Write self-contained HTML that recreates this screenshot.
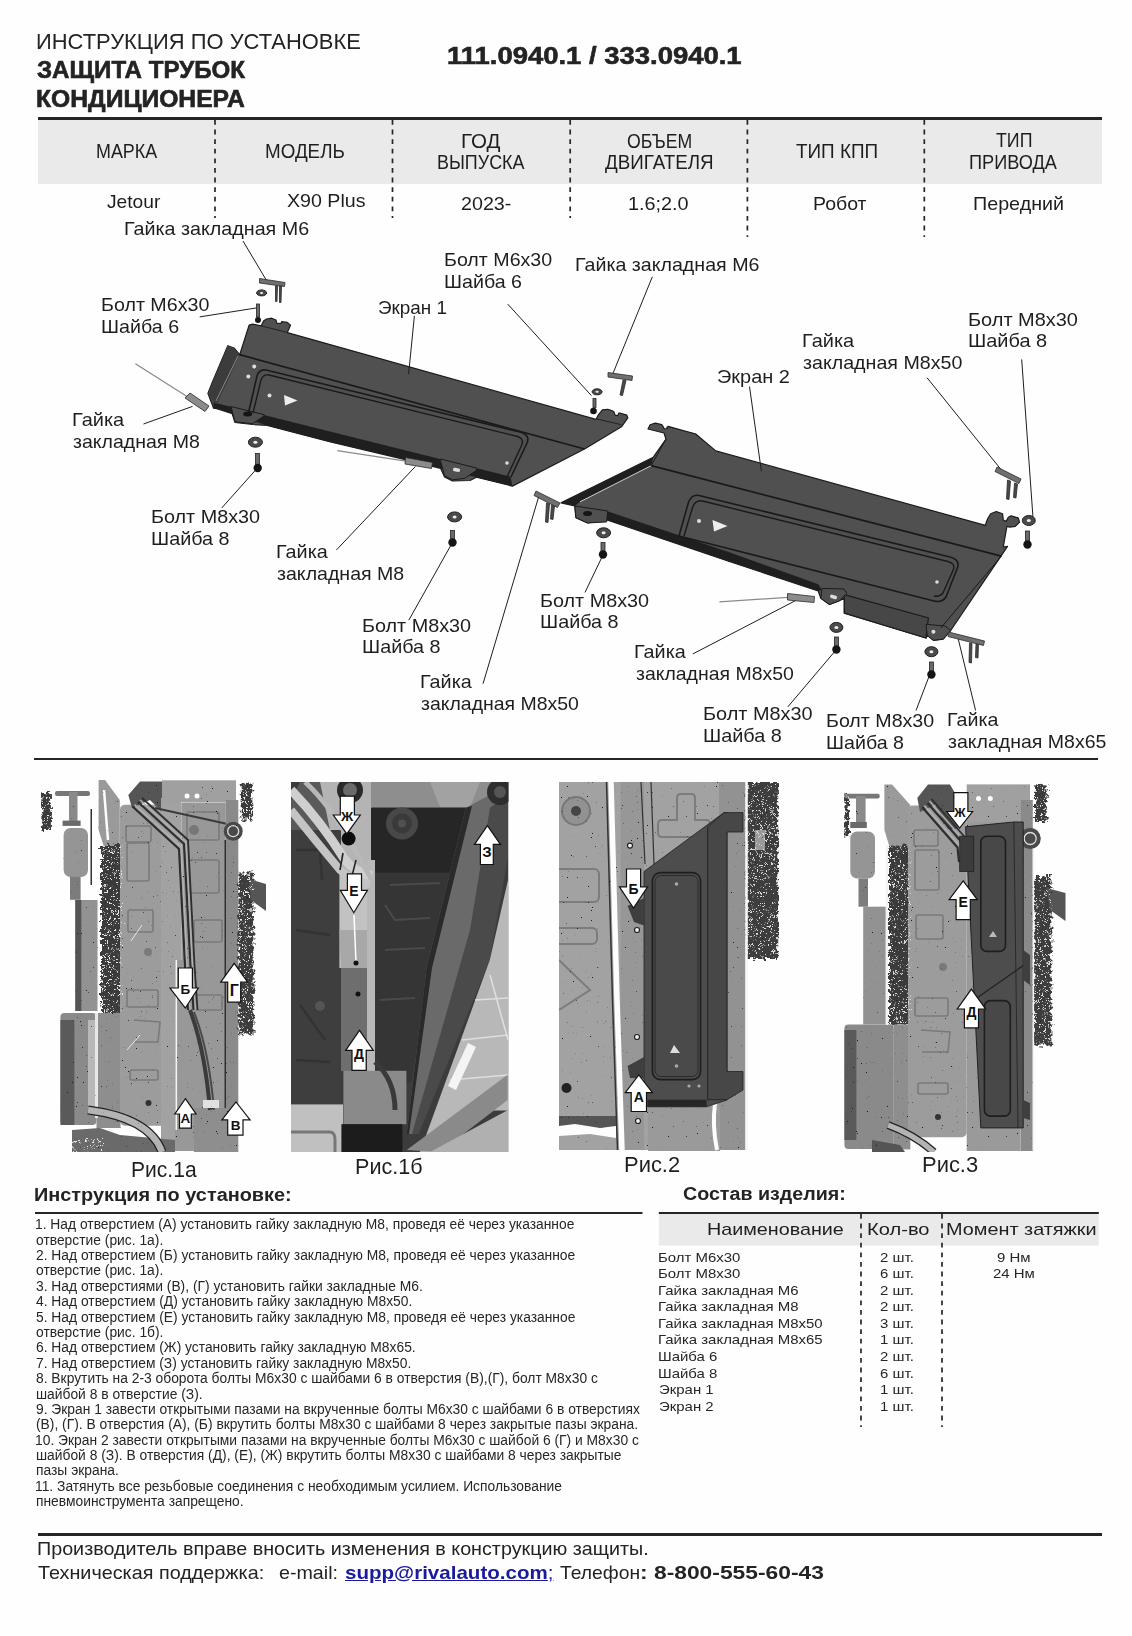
<!DOCTYPE html>
<html><head><meta charset="utf-8"><title>Инструкция по установке</title>
<style>
html,body{margin:0;padding:0;background:#fefefe;}
body{width:1132px;height:1636px;position:relative;overflow:hidden;font-family:"Liberation Sans",sans-serif;}
svg.layer{position:absolute;left:0;top:0;}
.t{position:absolute;white-space:nowrap;transform-origin:0 0;}
</style></head><body>
<svg class="layer" width="1132" height="1636" viewBox="0 0 1132 1636">
<rect x="38" y="120" width="1064" height="64" fill="#eaeaea"/>
<rect x="38" y="117" width="1064" height="3" fill="#252525"/>
<g stroke="#262626" stroke-width="1.7" stroke-dasharray="4.8 4.8">
<line x1="215" y1="120" x2="215" y2="218"/>
<line x1="392.5" y1="120" x2="392.5" y2="218"/>
<line x1="570.2" y1="120" x2="570.2" y2="218"/>
<line x1="747.4" y1="120" x2="747.4" y2="237"/>
<line x1="924.3" y1="120" x2="924.3" y2="237"/>
</g>
<rect x="34" y="758" width="1064" height="2" fill="#252525"/>
<rect x="35" y="1212" width="607.5" height="2" fill="#252525"/>
<rect x="658.8" y="1214" width="440" height="31.5" fill="#eaeaea"/>
<rect x="658.8" y="1212" width="440" height="2" fill="#252525"/>
<g stroke="#262626" stroke-width="1.7" stroke-dasharray="4.8 4.8">
<line x1="861" y1="1214" x2="861" y2="1427"/>
<line x1="942" y1="1214" x2="942" y2="1427"/>
</g>
<rect x="38" y="1533" width="1064" height="3" fill="#252525"/>

<defs>
<linearGradient id="g1b_beam" x1="0" y1="0" x2="1" y2="0">
<stop offset="0" stop-color="#3a3a3a"/><stop offset="0.5" stop-color="#5a5a5a"/><stop offset="1" stop-color="#2e2e2e"/>
</linearGradient>
<linearGradient id="g1b_pipe" x1="0" y1="0" x2="0" y2="1">
<stop offset="0" stop-color="#d6d6d6"/><stop offset="0.6" stop-color="#bdbdbd"/><stop offset="1" stop-color="#8a8a8a"/>
</linearGradient>
<filter id="spD" x="0" y="0" width="1" height="1">
<feTurbulence type="fractalNoise" baseFrequency="0.75" numOctaves="2" seed="7" result="n"/>
<feColorMatrix in="n" type="matrix" values="0 0 0 0 0  0 0 0 0 0  0 0 0 0 0  0 0 0 12 -7.4" result="m"/>
<feComposite in="SourceGraphic" in2="m" operator="in"/>
</filter>
<filter id="spL" x="0" y="0" width="1" height="1">
<feTurbulence type="fractalNoise" baseFrequency="0.8" numOctaves="2" seed="11" result="n"/>
<feColorMatrix in="n" type="matrix" values="0 0 0 0 0  0 0 0 0 0  0 0 0 0 0  0 0 0 14 -10.7" result="m"/>
<feFlood flood-color="#1e1e1e" result="f"/>
<feComposite in="f" in2="m" operator="in" result="fd"/>
<feComposite in="fd" in2="SourceAlpha" operator="in" result="fds"/>
<feMerge><feMergeNode in="SourceGraphic"/><feMergeNode in="fds"/></feMerge>
</filter>
<clipPath id="c1b"><rect x="291" y="782" width="217.5" height="370"/></clipPath>
<clipPath id="c1a"><rect x="40" y="779" width="230" height="374"/></clipPath>
<clipPath id="c2"><rect x="559" y="782" width="220" height="369"/></clipPath>
<clipPath id="c3"><rect x="844" y="783" width="225" height="369"/></clipPath>
<filter id="rag" x="-40%" y="-8%" width="180%" height="116%">
<feTurbulence type="fractalNoise" baseFrequency="0.3" numOctaves="2" seed="5" result="t"/>
<feDisplacementMap in="SourceGraphic" in2="t" scale="9" xChannelSelector="R" yChannelSelector="G"/>
</filter>
</defs>

<!-- ===== Photo 1a ===== -->
<g id="p1a" filter="url(#spL)">
<!-- left exhaust parts -->
<rect filter="url(#rag)" x="41.4" y="793" width="9.5" height="37" fill="#3a3a3a"/>
<rect x="55" y="791" width="35" height="5" rx="2" fill="#777"/>
<rect x="69" y="792" width="8.5" height="29" fill="#8a8a8a"/>
<rect x="62.6" y="820.6" width="18" height="5.3" fill="#6a6a6a"/>
<rect x="63.6" y="828" width="24.4" height="49" rx="7" fill="#959595"/>
<rect x="70" y="876.8" width="10.6" height="23" fill="#7c7c7c"/>
<rect x="90.5" y="809" width="1.5" height="76" fill="#333"/>
<rect x="75.3" y="900" width="22.2" height="111" fill="#929292"/>
<rect x="75.3" y="900" width="6" height="111" fill="#555"/>
<polygon points="98.6,780 105,780 119.8,800 119.8,847 104,847 98.6,830" fill="#9a9a9a"/>
<path d="M104,790 L108,840" stroke="#fdfdfd" stroke-width="2.5"/>
<rect filter="url(#rag)" x="101" y="845" width="21" height="168" fill="#3a3a3a"/>
<rect x="60.4" y="1013" width="36" height="112" rx="4" fill="#8a8a8a"/>
<rect x="60.4" y="1020" width="14" height="105" fill="#5a5a5a"/>
<rect x="88" y="1020" width="8" height="95" fill="#b8b8b8"/>
<rect x="96.5" y="1013" width="24" height="115" fill="#8e8e8e"/>
<rect x="95" y="1013" width="3" height="105" fill="#e8e8e8"/>
<!-- floor panel -->
<rect x="120" y="804.7" width="55" height="321" rx="5" fill="#9c9c9c"/>
<g fill="none" stroke="#7a7a7a" stroke-width="1.6">
<rect x="126" y="826" width="25" height="16" rx="2"/>
<rect x="127" y="843" width="22" height="38" rx="2"/>
<rect x="128" y="910" width="25" height="22" rx="2"/>
<rect x="127" y="990" width="31" height="17" rx="2"/>
<path d="M134,1020 L160,1022 L158,1042 L135,1042"/>
<rect x="130" y="1070" width="28" height="10" rx="2"/>
</g>
<g fill="none" stroke="#e6e6e6" stroke-width="1">
<path d="M127,1050 L140,1035"/><path d="M131,941 L142,925"/>
</g>
<circle cx="148" cy="952" r="4" fill="#7a7a7a"/>
<circle cx="148.5" cy="1103" r="3" fill="#333"/>
<!-- top arm -->
<polygon points="128.3,795 140,781.4 165,781.4 177,800 175,815 165,815 150,800 132,808" fill="#555"/>
<!-- middle column + pipes -->
<rect x="161" y="798" width="20" height="353" fill="#a2a2a2"/>
<rect x="175" y="960" width="19" height="191" fill="#989898"/>
<rect x="175.5" y="960" width="1.6" height="170" fill="#f4f4f4"/>
<!-- right panel -->
<rect x="181.3" y="802.6" width="44.5" height="310" fill="#989898"/>
<g fill="none" stroke="#7a7a7a" stroke-width="1.6">
<rect x="187" y="812" width="32" height="28" rx="2"/>
<rect x="189" y="860" width="30" height="33" rx="2"/>
<rect x="194" y="920" width="28" height="22" rx="2"/>
<rect x="195" y="995" width="27" height="15" rx="2"/>
</g>
<circle cx="194" cy="830" r="5" fill="#777"/>
<rect x="162" y="780.3" width="74" height="22" fill="#a0a0a0"/>
<circle cx="187" cy="796" r="2.5" fill="#fff"/><circle cx="197" cy="796" r="2.5" fill="#fff"/>
<path d="M155,808 L232,825" stroke="#3a3a3a" stroke-width="2"/>
<rect x="225.8" y="800" width="12.5" height="352" fill="#8a8a8a"/>
<rect x="224.5" y="840" width="1.5" height="310" fill="#333"/>
<circle cx="233.2" cy="831.2" r="9.5" fill="#4a4a4a"/>
<circle cx="233.2" cy="831.2" r="5.5" fill="none" stroke="#ddd" stroke-width="1.3"/>
<rect filter="url(#rag)" x="241.7" y="783.5" width="10.6" height="36" fill="#3a3a3a"/>
<rect filter="url(#rag)" x="238.5" y="872.5" width="15" height="162" fill="#3c3c3c"/>
<polygon points="249,879 266,884 266,911 251,900" fill="#555"/>
<rect x="194" y="1108" width="44" height="44" fill="#8e8e8e"/>
<path d="M132.5,806.5 L179,849 L185,965 L188,1010" stroke="#2e2e2e" stroke-width="2.2" fill="none"/>
<path d="M134.6,804.7 L181.3,847.1 L187,965 L190,1010" stroke="#b0b0b0" stroke-width="1.6" fill="none"/>
<path d="M138,802 L184,844 L190.5,965 L193.5,1010" stroke="#2e2e2e" stroke-width="2.2" fill="none"/>
<path d="M140,800 L186,842 L192.5,965 L195.5,1010" stroke="#b0b0b0" stroke-width="1.4" fill="none"/>
<path d="M142,798 L188,840 L194.5,965 L197.5,1010" stroke="#2e2e2e" stroke-width="1.8" fill="none"/>
<path d="M190,1010 Q205,1050 210,1110" stroke="#3a3a3a" stroke-width="4" fill="none"/>
<path d="M194,1012 Q209,1050 214,1110" stroke="#4a4a4a" stroke-width="2" fill="none"/>
<rect x="203" y="1100" width="16" height="8" fill="#e0e0e0"/>
<!-- bottom pipe and speckle -->
<polygon points="72,1130 100,1128 120,1135 175,1140 175,1152 72,1152" fill="#6a6a6a"/>
<path d="M88,1110 Q150,1118 162,1152" stroke="#222" stroke-width="9" fill="none"/>
<path d="M88,1110 Q150,1118 162,1152" stroke="#b4b4b4" stroke-width="6.5" fill="none"/>
<g filter="url(#rag)"><g filter="url(#spD)" fill="#e8e8e8"><rect x="101" y="845" width="21" height="168"/><rect x="238.5" y="872.5" width="15" height="162"/><rect x="41.4" y="793" width="9.5" height="37"/><rect x="72" y="1138" width="30" height="14"/><rect x="241.7" y="783.5" width="10.6" height="36"/></g></g>
</g>

<!-- ===== Photo 1b ===== -->
<g id="p1b" clip-path="url(#c1b)">
<rect x="291" y="782" width="217.5" height="370" fill="#3c3c3c"/>
<!-- upper light floor area behind tubes -->
<polygon points="315,782 372,782 372,873 345,873 320,830" fill="#b4b4b4"/>
<polygon points="291,800 300,782 320,782 330,830 291,830" fill="#5a5a5a"/>
<!-- middle top band -->
<polygon points="371,782 508,782 508,800 466,807.7 371,807.7" fill="#8e8e8e"/>
<polygon points="430,782 480,782 470,807 440,807" fill="#a2a2a2"/>
<!-- dark middle -->
<rect x="371" y="807.7" width="95" height="65" fill="#262626"/>
<circle cx="402" cy="823.5" r="16" fill="#484848"/>
<circle cx="402" cy="823.5" r="10" fill="#3a3a3a"/>
<circle cx="402" cy="823.5" r="4" fill="#505050"/>
<polygon points="371,873 455,873 434.4,960 410.7,1082.7 375,1082.7" fill="#353535"/>
<g fill="none" stroke="#4a4a4a" stroke-width="2">
<path d="M390,885 L440,883"/><path d="M385,905 L395,920 L430,918"/><path d="M385,950 L425,948"/><path d="M380,1000 L415,998"/>
</g>
<!-- left dark panel -->
<rect x="291" y="830" width="50" height="275" fill="#3e3e3e"/>
<g fill="none" stroke="#333" stroke-width="2.5">
<path d="M296,850 L320,850 L322,880"/><path d="M296,930 L330,935"/><path d="M300,1005 L325,1040"/><path d="M296,1060 L330,1062"/>
</g>
<circle cx="320" cy="1006" r="5" fill="#555"/>
<!-- vertical strip -->
<rect x="339.4" y="873" width="27.6" height="95" fill="#c2c2c2"/>
<rect x="341" y="968" width="26" height="103" fill="#6e6e6e"/>
<polygon points="339.4,930 367,930 367,968 341,968" fill="#a8a8a8"/>
<rect x="367" y="860" width="8" height="215" fill="#b8b8b8"/>
<!-- beam -->
<polygon points="466,807.7 508,785 508,857 460,968 418.6,1134 406.7,1134 426.5,968" fill="#6a6a6a"/>
<polygon points="490,807.7 508,795 508,857 489.8,960 418.6,1134 412,1134 470,930" fill="#4a4a4a"/>
<polygon points="466,807.7 472,806 432,968 409,1134 406.7,1134 426.5,968" fill="#2a2a2a"/>
<!-- top-right fitting -->
<circle cx="500" cy="792" r="13" fill="#2e2e2e"/>
<circle cx="500" cy="792" r="6" fill="#555"/>
<!-- hall -->
<polygon points="508,880 508,1110.4 466,1110.4 440,1152 420,1152 489.8,960" fill="#b8b8b8"/>
<g stroke="#dedede" stroke-width="1.6"><line x1="475" y1="1000" x2="508" y2="998"/><line x1="462" y1="1040" x2="508" y2="1035"/><line x1="450" y1="1080" x2="508" y2="1075"/><line x1="490" y1="975" x2="508" y2="1040"/></g>
<polygon points="448,1086 468,1043 476,1047 456,1090" fill="#f4f4f4"/>
<polygon points="406.7,1150 507.6,1074.8 507.6,1100 440,1152" fill="#8a8a8a"/>
<polygon points="430,1152 508,1110 508,1152" fill="#b0b0b0"/>
<!-- bottom -->
<rect x="291" y="1104.4" width="52" height="48" fill="#c0c0c0"/>
<path d="M291,1132 L330,1132 Q335,1132 335,1140 L335,1152" stroke="#777" stroke-width="3" fill="none"/>
<rect x="343.4" y="1070.8" width="63" height="53.4" fill="#8a8a8a"/>
<path d="M375,1062 Q395,1080 395,1110" stroke="#3a3a3a" stroke-width="5" fill="none"/>
<rect x="341.4" y="1124.2" width="61" height="28" fill="#1c1c1c"/>
<!-- light tubes top-left -->
<path d="M291,790 Q320,820 345,860 Q355,872 372,876" stroke="#cfcfcf" stroke-width="9" fill="none"/>
<path d="M291,810 Q315,840 340,870 Q350,880 370,884" stroke="#c4c4c4" stroke-width="8" fill="none"/>
<path d="M305,782 Q330,805 352,845 Q365,868 372,880" stroke="#b8b8b8" stroke-width="5" fill="none"/>
<circle cx="350" cy="790" r="13" fill="#2a2a2a"/>
<circle cx="350" cy="790" r="7" fill="#6a6a6a"/>
<g stroke="#222" stroke-width="1.6" fill="none"><path d="M343,853 L340,870"/><path d="M356,860 L352,876"/></g>
<circle cx="348.6" cy="838.6" r="7" fill="#0d0d0d"/>
<line x1="354" y1="915" x2="356" y2="962" stroke="#fff" stroke-width="1.5"/>
<circle cx="356" cy="963" r="2.5" fill="#111"/>
<circle cx="358" cy="994" r="2.5" fill="#111"/>
</g>

<!-- ===== Photo 2 ===== -->
<g id="p2" clip-path="url(#c2)">
<g filter="url(#spL)">
<rect x="559" y="782" width="186.3" height="368" fill="#a2a2a2"/>
<circle cx="576" cy="811" r="14" fill="#929292" stroke="#777" stroke-width="2"/>
<circle cx="576" cy="811" r="5" fill="#444"/>
<g fill="none" stroke="#7c7c7c" stroke-width="2">
<rect x="552" y="869" width="47" height="33" rx="5"/>
<rect x="552" y="928" width="45" height="16" rx="5"/>
<path d="M559,960 L590,990 L559,1010"/>
<path d="M677,798 Q677,794 681,794 L691,794 Q695,794 695,798 L695,820 L706,820 Q710,820 710,824 L710,833 Q710,837 706,837 L662,837 Q658,837 658,833 L658,824 Q658,820 662,820 L677,820 Z"/>
</g>
<rect x="559" y="1116" width="57" height="12" fill="#555"/>
<circle cx="566.5" cy="1088" r="5" fill="#222"/>
<rect x="620.6" y="782" width="23.4" height="368" fill="#979797"/>
<rect x="719" y="782" width="26.3" height="368" fill="#929292"/>
<rect x="648" y="1106" width="72" height="45" fill="#9a9a9a"/>
<rect filter="url(#rag)" x="746.5" y="782" width="31.7" height="177" fill="#3e3e3e"/>
<rect x="755" y="830" width="10" height="20" fill="#999"/>
</g>
<g filter="url(#rag)"><g filter="url(#spD)" fill="#dadada"><rect x="746.5" y="782" width="31.7" height="177"/></g></g>
<path d="M611,782 Q614,900 617,1000 T622,1150" stroke="#fdfdfd" stroke-width="5.5" fill="none"/>
<polygon points="559,1126 575,1124 600,1128 616,1126 616,1138 590,1134 559,1136" fill="#fdfdfd"/>
<path d="M715,1104 Q712,1125 717,1150" stroke="#fdfdfd" stroke-width="4" fill="none"/>
<path d="M606.5,782 Q609.5,900 612.5,1000 T617.5,1150" stroke="#333" stroke-width="1.5" fill="none"/>
<rect x="745.3" y="782" width="2.5" height="368" fill="#f5f5f5"/>
<g stroke="#333" stroke-width="1.2"><line x1="641" y1="782" x2="645" y2="864"/><line x1="651" y1="782" x2="654" y2="864"/></g>
<g fill="#f0f0f0" stroke="#222" stroke-width="1.2">
<circle cx="630" cy="845.6" r="2.5"/><circle cx="637" cy="930" r="2.5"/><circle cx="637" cy="1037" r="2.5"/><circle cx="638" cy="1121" r="2.5"/>
</g>
<polygon points="644,871.5 724,812.6 727,812.6 727,1100 706.5,1106.8 647.6,1106.8 644,1103" fill="#4d4d4d" stroke="#222" stroke-width="0.8"/>
<polygon points="707.6,827 724,812.6 743,812.6 743,832 727,832 727,1071.5 743,1071.5 743,1090 727,1099.7 707.6,1099.7" fill="#474747" stroke="#222" stroke-width="0.8"/>
<line x1="707.6" y1="827" x2="707.6" y2="1099.7" stroke="#2a2a2a" stroke-width="1"/>
<rect x="652.4" y="872.6" width="48.2" height="207" rx="8" fill="#4a4a4a" stroke="#1e1e1e" stroke-width="1.6"/>
<rect x="655" y="875.5" width="43" height="201" rx="6" fill="none" stroke="#2a2a2a" stroke-width="1"/>
<rect x="647.6" y="1099.7" width="59" height="7" fill="#262626"/>
<circle cx="676.5" cy="884" r="1.8" fill="#aaa"/>
<circle cx="676.5" cy="1066" r="1.8" fill="#aaa"/>
<polygon points="674,1045 680,1053 670,1053" fill="#ddd"/>
<circle cx="689" cy="1086" r="1.6" fill="#aaa"/><circle cx="699" cy="1086" r="1.6" fill="#aaa"/>
<polygon points="627.6,906 644,898 644,925.6 634,922" fill="#3f3f3f"/>
<polygon points="627.6,1066 644,1057 644,1078.5 630,1078" fill="#3f3f3f"/>
</g>

<!-- ===== Photo 3 ===== -->
<g id="p3" clip-path="url(#c3)">
<g filter="url(#spL)">
<rect filter="url(#rag)" x="844.4" y="793.8" width="4.7" height="42.4" fill="#3a3a3a"/>
<rect x="844.4" y="793.8" width="35.3" height="4.7" rx="2" fill="#777"/>
<rect x="856" y="796" width="9.6" height="28.4" fill="#8a8a8a"/>
<rect x="850.3" y="822" width="16.5" height="6" fill="#6a6a6a"/>
<rect x="850.3" y="831.5" width="24.7" height="47" rx="7" fill="#959595"/>
<rect x="858.5" y="878.5" width="9.5" height="28.2" fill="#7c7c7c"/>
<rect x="863.2" y="906.7" width="22.4" height="117.7" fill="#929292"/>
<polygon points="884.4,784.4 892,784.4 910.3,805 910.3,855 892,855 884.4,830" fill="#9a9a9a"/>
<rect filter="url(#rag)" x="889" y="845.6" width="21.3" height="178.8" fill="#3a3a3a"/>
<rect x="844.4" y="1024.4" width="49.4" height="124.6" rx="4" fill="#8a8a8a"/>
<rect x="844.4" y="1030" width="12" height="110" fill="#5a5a5a"/>
<rect x="893.8" y="1024.4" width="16.5" height="125" fill="#8e8e8e"/>
<rect x="908" y="805.6" width="58.7" height="331.7" rx="5" fill="#9c9c9c"/>
<g fill="none" stroke="#7a7a7a" stroke-width="1.6">
<rect x="914" y="830" width="24" height="16" rx="2"/>
<rect x="915" y="850" width="24" height="40" rx="2"/>
<rect x="916" y="915" width="27" height="24" rx="2"/>
<rect x="915" y="998" width="33" height="18" rx="2"/>
<path d="M921,1030 L950,1032 L948,1052 L922,1052"/>
<rect x="918" y="1083" width="30" height="11" rx="2"/>
</g>
<circle cx="943" cy="967" r="4" fill="#7a7a7a"/>
<circle cx="938" cy="1117" r="3" fill="#333"/>
<polygon points="917.3,798 928,784.4 950,784.4 962,805 957.3,829 948,829 935,805 920,812" fill="#555"/>
<rect x="966.7" y="784.4" width="63.3" height="37.6" fill="#a0a0a0"/>
<circle cx="978.5" cy="798.5" r="2.5" fill="#fff"/><circle cx="990.3" cy="798.5" r="2.5" fill="#fff"/>
<rect x="966.7" y="822" width="54" height="329" fill="#9a9a9a"/>
<rect x="1020.8" y="800" width="12" height="351" fill="#8a8a8a"/>
<rect filter="url(#rag)" x="1035" y="784.4" width="11.7" height="37.6" fill="#3a3a3a"/>
<rect filter="url(#rag)" x="1033.8" y="876" width="17.6" height="169.5" fill="#3c3c3c"/>
<polygon points="1046.7,888 1065.5,893 1065.5,921 1050,910" fill="#555"/>
<polygon points="872,1140 900,1145 905,1152 872,1152" fill="#555"/>
</g>
<g filter="url(#rag)"><g filter="url(#spD)" fill="#dadada"><rect x="889" y="845.6" width="21.3" height="178.8"/><rect x="1033.8" y="876" width="17.6" height="169.5"/><rect x="1035" y="784.4" width="11.7" height="37.6"/><rect x="844.4" y="793.8" width="4.7" height="42.4"/></g></g>
<rect x="886" y="845" width="2" height="180" fill="#f2f2f2"/>
<rect x="1032.6" y="840" width="1.5" height="310" fill="#f2f2f2"/>
<path d="M922.5,807.5 L957.5,847.5 L959,862" stroke="#2e2e2e" stroke-width="2.2" fill="none"/>
<path d="M924.4,805.6 L959.7,845.6 L961,862" stroke="#b0b0b0" stroke-width="1.6" fill="none"/>
<path d="M927.5,803 L962.5,843 L964,862" stroke="#2e2e2e" stroke-width="2.2" fill="none"/>
<path d="M929.5,801 L964.5,841 L966,862" stroke="#b0b0b0" stroke-width="1.4" fill="none"/>
<path d="M931.5,799 L966.5,839 L968,862" stroke="#2e2e2e" stroke-width="1.8" fill="none"/>
<path d="M888,1125 Q915,1135 933.8,1152" stroke="#222" stroke-width="8" fill="none"/>
<path d="M888,1125 Q915,1135 933.8,1152" stroke="#b4b4b4" stroke-width="5.5" fill="none"/>
<circle cx="1030.2" cy="838.5" r="10.6" fill="#4a4a4a"/>
<circle cx="1030.2" cy="838.5" r="6" fill="none" stroke="#ddd" stroke-width="1.3"/>
<polygon points="965.6,826.8 1013.8,822 1023.2,822 1023.2,1127.9 980.8,1127.9" fill="#4d4d4d" stroke="#222" stroke-width="1"/>
<rect x="959.7" y="836.2" width="14" height="35.3" fill="#3c3c3c" stroke="#222" stroke-width="0.8"/>
<line x1="1013.8" y1="822" x2="1018" y2="1127.9" stroke="#2a2a2a" stroke-width="1"/>
<line x1="976.1" y1="998.5" x2="1023.2" y2="965.5" stroke="#222" stroke-width="1.2"/>
<polygon points="1023.2,950 1030,955 1030,985 1023.2,980" fill="#3f3f3f"/>
<polygon points="1023.2,1100 1030,1103 1030,1120 1023.2,1118" fill="#3f3f3f"/>
<rect x="980.8" y="836.2" width="24.7" height="115.2" rx="6" fill="#484848" stroke="#1e1e1e" stroke-width="1.6"/>
<rect x="984.4" y="1000.6" width="25.9" height="115.5" rx="6" fill="#484848" stroke="#1e1e1e" stroke-width="1.6"/>
<polygon points="993,931 997,937 989,937" fill="#bbb"/>
</g>

<!-- ===== Arrows ===== -->
<g fill="#fff" stroke="#111" stroke-width="1.2" stroke-linejoin="miter">
<!-- Б down p1a -->
<polygon points="178.3,968 192.4,968 192.4,988 198.3,988 185.3,1008 170,988 178.3,988"/>
<!-- Г up -->
<polygon points="234.2,963.3 247.7,982.2 240.7,982.2 240.7,1002.2 227.7,1002.2 227.7,982.2 220.7,982.2"/>
<!-- А up p1a -->
<polygon points="185.4,1098.7 196,1114 191.3,1114 191.3,1128.1 179.5,1128.1 179.5,1114 174.8,1114"/>
<!-- В up -->
<polygon points="236,1102 250.1,1119.9 243,1119.9 243,1135.2 227.7,1135.2 227.7,1119.9 221.9,1119.9"/>
<!-- Ж down p1b -->
<polygon points="340.3,796.2 354.4,796.2 354.4,815 360.3,815 346.8,833.9 333.3,815 340.3,815"/>
<!-- Е down p1b -->
<polygon points="347.4,873.9 361.5,873.9 361.5,890.3 367.4,890.3 353.8,912.7 340.3,890.3 347.4,890.3"/>
<!-- З up -->
<polygon points="487.4,825.6 500.4,844.4 493.3,844.4 493.3,864.5 480.4,864.5 480.4,844.4 474.5,844.4"/>
<!-- Д up p1b -->
<polygon points="359.5,1030.4 373.3,1050.4 366.2,1050.4 366.2,1070.4 352,1070.4 352,1050.4 345.7,1050.4"/>
<!-- Б down p2 -->
<polygon points="626.5,869 640.6,869 640.6,886.8 647.6,886.8 633.5,908 619.4,886.8 626.5,886.8"/>
<!-- А up p2 -->
<polygon points="638.8,1075 652.4,1092.6 646.5,1092.6 646.5,1111.5 631.2,1111.5 631.2,1092.6 625.3,1092.6"/>
<!-- Ж down p3 -->
<polygon points="953.8,792.6 967.9,792.6 967.9,811.5 972.6,811.5 959.6,828 946.7,811.5 953.8,811.5"/>
<!-- Е up p3 -->
<polygon points="963.2,880.9 977.3,899.7 970.3,899.7 970.3,919.7 956.1,919.7 956.1,899.7 949.1,899.7"/>
<!-- Д up p3 -->
<polygon points="971.4,989.1 985.5,1009 978.5,1009 978.5,1027.9 964.4,1027.9 964.4,1009 957.3,1009"/>
</g>
<g font-family="Liberation Sans" font-weight="bold" fill="#111" text-anchor="middle">
<text x="185.3" y="994" font-size="13.5">Б</text>
<text x="234.2" y="996" font-size="16">Г</text>
<text x="185.4" y="1123" font-size="13.5">А</text>
<text x="235.5" y="1130" font-size="13.5">В</text>
<text x="347" y="820.5" font-size="13.5">Ж</text>
<text x="354" y="896" font-size="14">Е</text>
<text x="487" y="857" font-size="15">З</text>
<text x="359" y="1059" font-size="14">Д</text>
<text x="633.5" y="894" font-size="14">Б</text>
<text x="638.8" y="1102" font-size="14">А</text>
<text x="960" y="816.5" font-size="12.5">Ж</text>
<text x="963.2" y="907" font-size="14">Е</text>
<text x="971.4" y="1017" font-size="14">Д</text>
</g>

<!-- shield 1 -->
<g id="s1">
<polygon fill="#505050" stroke="#1c1c1c" stroke-width="1.2" stroke-linejoin="round" points="249.1,325.2 252.7,324.2 261.1,325.9 263.5,321 266.5,319 271.7,318.2 276,320 276.7,323.1 280.9,323.5 281.6,321.7 287.3,322.4 290.5,325.2 287.3,332.6 596,419.4 598.2,415.1 602.4,409.8 607.7,409.3 612.5,410.9 614,412 615.1,415.1 617.8,415.7 618.8,413 620,413 626.8,415.1 627.8,417.8 621.5,426.8 584.5,449 512.4,486.1 476.4,477.2 470,480.5 452.5,481 444.6,477 440.6,468.3 400,458.3 329.5,441.7 267.2,425.5 252.5,424.5 235,422.5 231,410 213.6,408.2 207.9,393.4 212,383 227.8,345.7 234,348 239.7,354.7"/>
<polygon fill="#1f1f1f" points="213.6,402.4 400,449 510.5,476.5 512.4,486.1 476.4,477.2 440.6,468.3 400,458.3 329.5,441.7 267.2,425.5 213.6,408.2"/>
<polygon fill="#505050" stroke="#1c1c1c" stroke-width="1" points="440.6,459 440.6,461.2 444.6,475.8 452.5,479.8 464.4,478.4 476.4,470.5 476.4,468"/>
<polygon fill="#505050" stroke="#1c1c1c" stroke-width="1" points="231,406.5 235,421.8 252.5,423.7 264.1,416 264.1,414.7"/>
<polygon fill="#3c3c3c" points="207.9,393.4 227.8,345.7 234,348 239.7,354.7 217,404 213.6,402.4"/>
<line x1="216" y1="401" x2="238" y2="356" stroke="#9a9a9a" stroke-width="0.8"/>
<polyline fill="none" stroke="#1a1a1a" stroke-width="1.8" points="239.7,354.7 584.5,449"/>
<line x1="261.9" y1="326" x2="286.6" y2="332.3" stroke="#222" stroke-width="1"/>
<line x1="597" y1="419" x2="621.5" y2="424.7" stroke="#222" stroke-width="1"/>
<line x1="987" y1="521.4" x2="1006.9" y2="526.4" stroke="#222" stroke-width="1"/>
<line x1="666" y1="427" x2="695.7" y2="434" stroke="#222" stroke-width="0.8"/>
<path fill="none" stroke="#1a1a1a" stroke-width="1.6" d="M248.7,412 L257,376 Q259,369 266,370 L520,432 Q530.5,435 527,443 L511,477"/>
<path fill="none" stroke="#1a1a1a" stroke-width="1.4" d="M253,413 L261,380 Q263,374 269,375 L517.5,436.5 Q524.5,438.5 521.5,445.5 L507,477"/>
<circle cx="254.2" cy="366.6" r="2" fill="#ddd"/>
<circle cx="248.3" cy="376.5" r="2" fill="#ddd"/>
<circle cx="269.5" cy="395.4" r="2" fill="#ddd"/>
<polygon fill="#eee" points="284,395 297.5,400.5 285,405.5"/>
<circle cx="507" cy="463" r="1.8" fill="#ddd"/>
<ellipse cx="247.6" cy="414" rx="4.5" ry="2.5" fill="#151515"/>
<rect x="453" y="468" width="7" height="3.5" rx="1.5" fill="#ddd" transform="rotate(10 456 470)"/>
</g>

<!-- shield 2 -->
<g id="s2">
<polygon fill="#505050" stroke="#1c1c1c" stroke-width="1.2" stroke-linejoin="round" points="648,429 650.1,424.7 655.4,423.1 661.8,424.7 662.8,426 664.4,429 667,428.5 668.1,426.3 695.7,434 715.8,450.9 985.3,525.3 987.5,519 990.6,513.7 996.3,511.5 1002.6,513.7 1003.3,520 1006.1,521.4 1008.3,517.2 1011.1,515.8 1018.2,517.9 1019.6,522.1 1015.3,526.4 1009.7,527.1 1006.9,526.4 1003.3,547 1007.5,546.4 950.7,630.5 943.2,639.1 933.4,640.3 927.2,635.4 926,638 844.3,613.1 844.3,598.3 839.4,600.8 829.5,604.5 820.8,598.3 818.2,591 728.6,561.2 607,520 587.6,523 575.9,517.7 574.8,506 561,502.8 653.3,457.2 666,439.2 664,433"/>
<polygon fill="#1f1f1f" points="561,502.8 653.3,457.2 651.2,465.7 580,501.8 574.8,506"/>
<line x1="651.2" y1="465.7" x2="580" y2="501.8" stroke="#cfcfcf" stroke-width="1"/>
<polygon fill="#1f1f1f" points="575,506 606.6,511 728.6,552 818.2,584.2 822,590 818.2,591 728.6,561.2 600,517.6 575,511"/>
<polygon fill="#505050" stroke="#1c1c1c" stroke-width="1" points="574.8,506 575.9,517.7 587.6,523 606.6,521.9 607.7,511"/>
<polygon fill="#474747" stroke="#1c1c1c" stroke-width="1.2" points="844.3,594.6 928.4,618 926,638 844.3,613.1"/>
<polygon fill="#505050" stroke="#1c1c1c" stroke-width="1" points="926,624.3 927.2,635.4 933.4,640.3 943.2,639.1 950.7,630.5 945,626"/>
<polygon fill="#505050" stroke="#1c1c1c" stroke-width="1" points="822,588.4 820.8,598.3 829.5,604.5 839.4,600.8 846.8,593.4 844,589"/>
<polyline fill="none" stroke="#1a1a1a" stroke-width="1.8" points="651.2,465.7 1001.4,556.2"/>
<line x1="666" y1="439.2" x2="651.2" y2="465.7" stroke="#1a1a1a" stroke-width="1"/>
<polyline fill="none" stroke="#1a1a1a" stroke-width="1" points="1001.4,556.2 940.8,628"/>
<path fill="none" stroke="#1a1a1a" stroke-width="1.6" d="M679,536 L688,504 Q691,494 699,495.5 L950,557 Q961,560 957,569 L946,597 Q942,603 934,601 Z"/>
<path fill="none" stroke="#1a1a1a" stroke-width="1.4" d="M684,536 L692.5,507.5 Q695.5,499.5 702.5,501 L948,561.5 Q956,563.5 953,570.5 L943,593 Q940,597 934,596"/>
<circle cx="699" cy="521" r="2" fill="#ddd"/>
<polygon fill="#eee" points="712.5,520 727.5,526 714,531.5"/>
<circle cx="937" cy="582" r="1.8" fill="#ddd"/>
<ellipse cx="587.6" cy="513.4" rx="4.5" ry="2.5" fill="#151515"/>
<rect x="830" y="595" width="7" height="3.5" rx="1.5" fill="#ddd" transform="rotate(18 833 597)"/>
<circle cx="933.4" cy="631.7" r="2" fill="#ddd"/>
</g>

<!-- leader lines -->
<g stroke="#1e1e1e" stroke-width="1" fill="none">
<line x1="243" y1="241" x2="266.5" y2="280.5"/>
<line x1="199.7" y1="316.9" x2="257.9" y2="307.7"/>
<line x1="414.4" y1="315.8" x2="408.6" y2="374.1"/>
<line x1="507.7" y1="304.1" x2="591.3" y2="395.5"/>
<line x1="652.3" y1="276.9" x2="612.7" y2="374.1"/>
<line x1="749.5" y1="386.5" x2="761.4" y2="471.3"/>
<line x1="927" y1="377.7" x2="1003.3" y2="472.4"/>
<line x1="1021.7" y1="359.4" x2="1033" y2="517.7"/>
<line x1="143.5" y1="424" x2="192.5" y2="406.4"/>
<line x1="221.7" y1="508" x2="256.1" y2="469.5"/>
<line x1="336.4" y1="550" x2="415.4" y2="466.5"/>
<line x1="408.8" y1="620.2" x2="451.2" y2="544.7"/>
<line x1="483" y1="683.8" x2="538.6" y2="497"/>
<line x1="585" y1="592.4" x2="602.2" y2="556.6"/>
<line x1="692.9" y1="653.9" x2="796.7" y2="600"/>
<line x1="787.8" y1="706.9" x2="836.4" y2="649.5"/>
<line x1="916" y1="710.5" x2="929.2" y2="676"/>
<line x1="975.6" y1="710.5" x2="957.9" y2="637.5"/>
</g>

<!-- rods for nuts M8 / M8x50 horizontal -->
<g stroke="#8a8a8a" stroke-width="1.3">
<line x1="135.4" y1="363.7" x2="191" y2="399"/>
<line x1="337.2" y1="450.6" x2="406" y2="461.2"/>
<line x1="719.4" y1="601.8" x2="787.8" y2="597.4"/>
</g>
<!-- nut bodies (cylinders) -->
<g stroke="#2a2a2a" stroke-width="0.8" fill="#8c8c8c">
<polygon points="185,398 190,393 209,406 205,411.5"/>
<polygon points="405.5,457.5 432.5,462.5 431.5,468.5 405,464"/>
<polygon points="787.5,593.5 814.5,596.5 814,602.5 787.5,600"/>
</g>
<!-- T nuts -->
<g stroke="#2a2a2a" stroke-width="0.8" fill="#707070">
<polygon points="259.5,278.5 285,282.5 284.5,286.5 259.5,283"/>
<polygon fill="#4a4a4a" points="275.5,286 277.5,286 277,301.5 275.5,301.5"/><polygon fill="#4a4a4a" points="279.5,286 281.5,286 281,302.5 279.5,302.5"/>
<polygon points="608,372.5 632.5,376 632,380.5 608,377"/>
<polygon fill="#4a4a4a" points="623,380 626,380.5 622.5,395.5 620,395"/>
<polygon points="536,491 560,503 557.5,507.5 534,495.5"/>
<polygon fill="#4a4a4a" points="546.5,503 549.5,504 548,522.5 545.5,522"/>
<polygon fill="#4a4a4a" points="551.5,505 554.5,506 553,519.5 550.5,519"/>
<polygon points="997,467 1021,479 1019,483.5 995,471.5"/>
<polygon fill="#4a4a4a" points="1007.5,480 1010.5,481 1009,499.5 1006.5,499"/>
<polygon fill="#4a4a4a" points="1014.5,483 1017.5,484 1016,498 1013.5,497.5"/>
<polygon points="948.5,632 984.5,641 983.5,645.5 948,636.5"/>
<polygon fill="#4a4a4a" points="969.5,643 972,643.5 971.5,663 969,662.5"/>
<polygon fill="#4a4a4a" points="976,644 978.5,644.5 978,658 975.5,657.5"/>
</g>
<!-- washers -->
<g fill="#4a4a4a" stroke="#222" stroke-width="1">
<ellipse cx="261.6" cy="292.9" rx="5" ry="3"/>
<ellipse cx="597.1" cy="391.8" rx="5" ry="3"/>
<ellipse cx="255.4" cy="442.2" rx="7" ry="5"/>
<ellipse cx="454.6" cy="516.9" rx="7" ry="5"/>
<ellipse cx="603.6" cy="532.8" rx="7" ry="5"/>
<ellipse cx="1028.8" cy="520.5" rx="6.5" ry="5"/>
<ellipse cx="836.4" cy="627.4" rx="6.5" ry="5"/>
<ellipse cx="931.4" cy="651.7" rx="6.5" ry="5"/>
</g>
<g fill="#eee">
<ellipse cx="261.6" cy="292.9" rx="1.6" ry="1"/>
<ellipse cx="597.1" cy="391.8" rx="1.6" ry="1"/>
<ellipse cx="255.4" cy="442.2" rx="2" ry="1.5"/>
<ellipse cx="454.6" cy="516.9" rx="2" ry="1.5"/>
<ellipse cx="603.6" cy="532.8" rx="2" ry="1.5"/>
<ellipse cx="1028.8" cy="520.5" rx="2" ry="1.5"/>
<ellipse cx="836.4" cy="627.4" rx="2" ry="1.5"/>
<ellipse cx="931.4" cy="651.7" rx="2" ry="1.5"/>
</g>
<!-- bolts -->
<g fill="#6a6a6a" stroke="#222" stroke-width="0.8">
<rect x="256.5" y="304" width="3" height="13"/>
<rect x="593" y="398.5" width="3" height="9"/>
<rect x="255.5" y="453.5" width="4" height="12"/>
<rect x="450.5" y="530.5" width="4" height="10"/>
<rect x="601" y="542.5" width="4" height="10"/>
<rect x="1025.5" y="531" width="4" height="11"/>
<rect x="834.4" y="637" width="4" height="10"/>
<rect x="929.4" y="662" width="4" height="10"/>
</g>
<g fill="#151515">
<circle cx="258" cy="320" r="3"/>
<circle cx="593.5" cy="411" r="3.3"/>
<circle cx="257.7" cy="468" r="4.2"/>
<circle cx="452.5" cy="542.5" r="4.2"/>
<circle cx="603" cy="554.5" r="4.2"/>
<circle cx="1027.5" cy="544.5" r="4.2"/>
<circle cx="836.4" cy="649.5" r="4.2"/>
<circle cx="931.4" cy="674.5" r="4.2"/>
</g>

</svg>
<div class="t" style="left:36.01px;top:29.29px;font-size:22.2px;line-height:26.64px;font-weight:normal;color:#232323;transform:scaleX(0.9876)">ИНСТРУКЦИЯ ПО УСТАНОВКЕ</div>
<div class="t" style="left:37.00px;top:57.23px;font-size:23.0px;line-height:27.60px;font-weight:bold;color:#232323;transform:scaleX(1.0481);-webkit-text-stroke:0.6px #232323">ЗАЩИТА ТРУБОК</div>
<div class="t" style="left:35.93px;top:85.53px;font-size:23.0px;line-height:27.60px;font-weight:bold;color:#232323;transform:scaleX(1.0728);-webkit-text-stroke:0.6px #232323">КОНДИЦИОНЕРА</div>
<div class="t" style="left:447.24px;top:42.26px;font-size:23.6px;line-height:28.32px;font-weight:bold;color:#232323;transform:scaleX(1.1634);-webkit-text-stroke:0.6px #232323">111.0940.1 / 333.0940.1</div>
<div class="t" style="left:96.09px;top:140.05px;font-size:19.7px;line-height:23.64px;font-weight:normal;color:#1e1e1e;transform:scaleX(0.9087)">МАРКА</div>
<div class="t" style="left:265.04px;top:140.05px;font-size:19.7px;line-height:23.64px;font-weight:normal;color:#1e1e1e;transform:scaleX(0.9551)">МОДЕЛЬ</div>
<div class="t" style="left:460.96px;top:129.95px;font-size:19.7px;line-height:23.64px;font-weight:normal;color:#1e1e1e;transform:scaleX(1.0429)">ГОД</div>
<div class="t" style="left:436.69px;top:151.15px;font-size:19.7px;line-height:23.64px;font-weight:normal;color:#1e1e1e;transform:scaleX(0.9113)">ВЫПУСКА</div>
<div class="t" style="left:627.00px;top:129.95px;font-size:19.7px;line-height:23.64px;font-weight:normal;color:#1e1e1e;transform:scaleX(0.8977)">ОБЪЕМ</div>
<div class="t" style="left:605.40px;top:151.15px;font-size:19.7px;line-height:23.64px;font-weight:normal;color:#1e1e1e;transform:scaleX(0.9545)">ДВИГАТЕЛЯ</div>
<div class="t" style="left:796.00px;top:140.25px;font-size:19.7px;line-height:23.64px;font-weight:normal;color:#1e1e1e;transform:scaleX(0.9595)">ТИП КПП</div>
<div class="t" style="left:996.00px;top:129.35px;font-size:19.7px;line-height:23.64px;font-weight:normal;color:#1e1e1e;transform:scaleX(0.9036)">ТИП</div>
<div class="t" style="left:968.78px;top:150.55px;font-size:19.7px;line-height:23.64px;font-weight:normal;color:#1e1e1e;transform:scaleX(0.9220)">ПРИВОДА</div>
<div class="t" style="left:107.00px;top:191.42px;font-size:19px;line-height:22.80px;font-weight:normal;color:#1e1e1e;transform:scaleX(1.0097)">Jetour</div>
<div class="t" style="left:287.00px;top:190.02px;font-size:19px;line-height:22.80px;font-weight:normal;color:#1e1e1e;transform:scaleX(1.0325)">X90 Plus</div>
<div class="t" style="left:461.00px;top:192.72px;font-size:19px;line-height:22.80px;font-weight:normal;color:#1e1e1e;transform:scaleX(1.0359)">2023-</div>
<div class="t" style="left:627.96px;top:192.72px;font-size:19px;line-height:22.80px;font-weight:normal;color:#1e1e1e;transform:scaleX(1.0436)">1.6;2.0</div>
<div class="t" style="left:812.97px;top:193.02px;font-size:19px;line-height:22.80px;font-weight:normal;color:#1e1e1e;transform:scaleX(1.0265)">Робот</div>
<div class="t" style="left:972.56px;top:193.02px;font-size:19px;line-height:22.80px;font-weight:normal;color:#1e1e1e;transform:scaleX(1.0379)">Передний</div>
<div class="t" style="left:123.73px;top:218.08px;font-size:18.4px;line-height:22.08px;font-weight:normal;color:#1e1e1e;transform:scaleX(1.0712)">Гайка закладная М6</div>
<div class="t" style="left:101.43px;top:293.98px;font-size:18.4px;line-height:22.08px;font-weight:normal;color:#1e1e1e;transform:scaleX(1.0696)">Болт М6х30</div>
<div class="t" style="left:101.43px;top:315.78px;font-size:18.4px;line-height:22.08px;font-weight:normal;color:#1e1e1e;transform:scaleX(1.0696)">Шайба 6</div>
<div class="t" style="left:377.50px;top:297.18px;font-size:18.4px;line-height:22.08px;font-weight:normal;color:#1e1e1e;transform:scaleX(1.0271)">Экран 1</div>
<div class="t" style="left:443.63px;top:248.98px;font-size:18.4px;line-height:22.08px;font-weight:normal;color:#1e1e1e;transform:scaleX(1.0676)">Болт М6х30</div>
<div class="t" style="left:443.63px;top:270.78px;font-size:18.4px;line-height:22.08px;font-weight:normal;color:#1e1e1e;transform:scaleX(1.0676)">Шайба 6</div>
<div class="t" style="left:575.43px;top:253.68px;font-size:18.4px;line-height:22.08px;font-weight:normal;color:#1e1e1e;transform:scaleX(1.0671)">Гайка закладная М6</div>
<div class="t" style="left:716.80px;top:366.38px;font-size:18.4px;line-height:22.08px;font-weight:normal;color:#1e1e1e;transform:scaleX(1.0853)">Экран 2</div>
<div class="t" style="left:802.11px;top:330.08px;font-size:18.4px;line-height:22.08px;font-weight:normal;color:#1e1e1e;transform:scaleX(1.0853)">Гайка</div>
<div class="t" style="left:803.20px;top:351.88px;font-size:18.4px;line-height:22.08px;font-weight:normal;color:#1e1e1e;transform:scaleX(1.0676)">закладная М8х50</div>
<div class="t" style="left:967.72px;top:308.58px;font-size:18.4px;line-height:22.08px;font-weight:normal;color:#1e1e1e;transform:scaleX(1.0846)">Болт М8х30</div>
<div class="t" style="left:967.72px;top:330.38px;font-size:18.4px;line-height:22.08px;font-weight:normal;color:#1e1e1e;transform:scaleX(1.0846)">Шайба 8</div>
<div class="t" style="left:72.22px;top:408.88px;font-size:18.4px;line-height:22.08px;font-weight:normal;color:#1e1e1e;transform:scaleX(1.0846)">Гайка</div>
<div class="t" style="left:73.30px;top:430.68px;font-size:18.4px;line-height:22.08px;font-weight:normal;color:#1e1e1e;transform:scaleX(1.0614)">закладная М8</div>
<div class="t" style="left:151.12px;top:506.38px;font-size:18.4px;line-height:22.08px;font-weight:normal;color:#1e1e1e;transform:scaleX(1.0766)">Болт М8х30</div>
<div class="t" style="left:151.12px;top:528.18px;font-size:18.4px;line-height:22.08px;font-weight:normal;color:#1e1e1e;transform:scaleX(1.0766)">Шайба 8</div>
<div class="t" style="left:276.22px;top:540.88px;font-size:18.4px;line-height:22.08px;font-weight:normal;color:#1e1e1e;transform:scaleX(1.0766)">Гайка</div>
<div class="t" style="left:277.30px;top:562.68px;font-size:18.4px;line-height:22.08px;font-weight:normal;color:#1e1e1e;transform:scaleX(1.0639)">закладная М8</div>
<div class="t" style="left:362.12px;top:614.68px;font-size:18.4px;line-height:22.08px;font-weight:normal;color:#1e1e1e;transform:scaleX(1.0766)">Болт М8х30</div>
<div class="t" style="left:362.12px;top:636.48px;font-size:18.4px;line-height:22.08px;font-weight:normal;color:#1e1e1e;transform:scaleX(1.0766)">Шайба 8</div>
<div class="t" style="left:419.62px;top:671.18px;font-size:18.4px;line-height:22.08px;font-weight:normal;color:#1e1e1e;transform:scaleX(1.0766)">Гайка</div>
<div class="t" style="left:420.70px;top:692.98px;font-size:18.4px;line-height:22.08px;font-weight:normal;color:#1e1e1e;transform:scaleX(1.0582)">закладная М8х50</div>
<div class="t" style="left:539.72px;top:589.58px;font-size:18.4px;line-height:22.08px;font-weight:normal;color:#1e1e1e;transform:scaleX(1.0766)">Болт М8х30</div>
<div class="t" style="left:539.72px;top:611.38px;font-size:18.4px;line-height:22.08px;font-weight:normal;color:#1e1e1e;transform:scaleX(1.0766)">Шайба 8</div>
<div class="t" style="left:634.42px;top:640.88px;font-size:18.4px;line-height:22.08px;font-weight:normal;color:#1e1e1e;transform:scaleX(1.0766)">Гайка</div>
<div class="t" style="left:635.50px;top:662.68px;font-size:18.4px;line-height:22.08px;font-weight:normal;color:#1e1e1e;transform:scaleX(1.0575)">закладная М8х50</div>
<div class="t" style="left:702.82px;top:702.78px;font-size:18.4px;line-height:22.08px;font-weight:normal;color:#1e1e1e;transform:scaleX(1.0806)">Болт М8х30</div>
<div class="t" style="left:702.82px;top:724.58px;font-size:18.4px;line-height:22.08px;font-weight:normal;color:#1e1e1e;transform:scaleX(1.0806)">Шайба 8</div>
<div class="t" style="left:825.63px;top:709.78px;font-size:18.4px;line-height:22.08px;font-weight:normal;color:#1e1e1e;transform:scaleX(1.0676)">Болт М8х30</div>
<div class="t" style="left:825.63px;top:731.58px;font-size:18.4px;line-height:22.08px;font-weight:normal;color:#1e1e1e;transform:scaleX(1.0676)">Шайба 8</div>
<div class="t" style="left:946.63px;top:709.38px;font-size:18.4px;line-height:22.08px;font-weight:normal;color:#1e1e1e;transform:scaleX(1.0676)">Гайка</div>
<div class="t" style="left:947.70px;top:731.18px;font-size:18.4px;line-height:22.08px;font-weight:normal;color:#1e1e1e;transform:scaleX(1.0616)">закладная М8х65</div>
<div class="t" style="left:130.64px;top:1157.48px;font-size:22.0px;line-height:26.40px;font-weight:normal;color:#1e1e1e;transform:scaleX(0.9574)">Рис.1а</div>
<div class="t" style="left:355.32px;top:1153.78px;font-size:22.0px;line-height:26.40px;font-weight:normal;color:#1e1e1e;transform:scaleX(0.9805)">Рис.1б</div>
<div class="t" style="left:624.30px;top:1151.78px;font-size:22.0px;line-height:26.40px;font-weight:normal;color:#1e1e1e;transform:scaleX(0.9968)">Рис.2</div>
<div class="t" style="left:922.40px;top:1151.78px;font-size:22.0px;line-height:26.40px;font-weight:normal;color:#1e1e1e;transform:scaleX(0.9968)">Рис.3</div>
<div class="t" style="left:34.45px;top:1184.11px;font-size:18.9px;line-height:22.68px;font-weight:bold;color:#232323;transform:scaleX(1.0527)">Инструкция по установке:</div>
<div class="t" style="left:683.00px;top:1183.21px;font-size:18.9px;line-height:22.68px;font-weight:bold;color:#232323;transform:scaleX(1.0400)">Состав изделия:</div>
<div class="t" style="left:34.50px;top:1217.24px;font-size:13.8px;line-height:16.56px;font-weight:normal;color:#262626;transform:scaleX(1.0022)">1. Над отверстием (А) установить гайку закладную М8, проведя её через указанное</div>
<div class="t" style="left:35.50px;top:1232.63px;font-size:13.8px;line-height:16.56px;font-weight:normal;color:#262626;transform:scaleX(1.0022)">отверстие (рис. 1а).</div>
<div class="t" style="left:35.50px;top:1248.02px;font-size:13.8px;line-height:16.56px;font-weight:normal;color:#262626;transform:scaleX(1.0022)">2. Над отверстием (Б) установить гайку закладную М8, проведя её через указанное</div>
<div class="t" style="left:35.50px;top:1263.41px;font-size:13.8px;line-height:16.56px;font-weight:normal;color:#262626;transform:scaleX(1.0022)">отверстие (рис. 1а).</div>
<div class="t" style="left:35.50px;top:1278.80px;font-size:13.8px;line-height:16.56px;font-weight:normal;color:#262626;transform:scaleX(1.0022)">3. Над отверстиями (В), (Г) установить гайки закладные М6.</div>
<div class="t" style="left:35.50px;top:1294.19px;font-size:13.8px;line-height:16.56px;font-weight:normal;color:#262626;transform:scaleX(1.0022)">4. Над отверстием (Д) установить гайку закладную М8х50.</div>
<div class="t" style="left:35.50px;top:1309.58px;font-size:13.8px;line-height:16.56px;font-weight:normal;color:#262626;transform:scaleX(1.0022)">5. Над отверстием (Е) установить гайку закладную М8, проведя её через указанное</div>
<div class="t" style="left:35.50px;top:1324.97px;font-size:13.8px;line-height:16.56px;font-weight:normal;color:#262626;transform:scaleX(1.0022)">отверстие (рис. 1б).</div>
<div class="t" style="left:35.50px;top:1340.36px;font-size:13.8px;line-height:16.56px;font-weight:normal;color:#262626;transform:scaleX(1.0022)">6. Над отверстием (Ж) установить гайку закладную М8х65.</div>
<div class="t" style="left:35.50px;top:1355.75px;font-size:13.8px;line-height:16.56px;font-weight:normal;color:#262626;transform:scaleX(1.0022)">7. Над отверстием (З) установить гайку закладную М8х50.</div>
<div class="t" style="left:35.50px;top:1371.14px;font-size:13.8px;line-height:16.56px;font-weight:normal;color:#262626;transform:scaleX(1.0022)">8. Вкрутить на 2-3 оборота болты М6х30 с шайбами 6 в отверстия (В),(Г), болт М8х30 с</div>
<div class="t" style="left:35.50px;top:1386.53px;font-size:13.8px;line-height:16.56px;font-weight:normal;color:#262626;transform:scaleX(1.0022)">шайбой 8 в отверстие (З).</div>
<div class="t" style="left:35.50px;top:1401.92px;font-size:13.8px;line-height:16.56px;font-weight:normal;color:#262626;transform:scaleX(1.0022)">9. Экран 1 завести открытыми пазами на вкрученные болты М6х30 с шайбами 6 в отверстиях</div>
<div class="t" style="left:35.50px;top:1417.31px;font-size:13.8px;line-height:16.56px;font-weight:normal;color:#262626;transform:scaleX(1.0022)">(В), (Г). В отверстия (А), (Б) вкрутить болты М8х30 с шайбами 8 через закрытые пазы экрана.</div>
<div class="t" style="left:34.50px;top:1432.70px;font-size:13.8px;line-height:16.56px;font-weight:normal;color:#262626;transform:scaleX(1.0022)">10. Экран 2 завести открытыми пазами на вкрученные болты М6х30 с шайбой 6 (Г) и М8х30 с</div>
<div class="t" style="left:35.50px;top:1448.09px;font-size:13.8px;line-height:16.56px;font-weight:normal;color:#262626;transform:scaleX(1.0022)">шайбой 8 (З). В отверстия (Д), (Е), (Ж) вкрутить болты М8х30 с шайбами 8 через закрытые</div>
<div class="t" style="left:35.50px;top:1463.48px;font-size:13.8px;line-height:16.56px;font-weight:normal;color:#262626;transform:scaleX(1.0022)">пазы экрана.</div>
<div class="t" style="left:34.50px;top:1478.87px;font-size:13.8px;line-height:16.56px;font-weight:normal;color:#262626;transform:scaleX(1.0022)">11. Затянуть все резьбовые соединения с необходимым усилием. Использование</div>
<div class="t" style="left:35.50px;top:1494.26px;font-size:13.8px;line-height:16.56px;font-weight:normal;color:#262626;transform:scaleX(1.0022)">пневмоинструмента запрещено.</div>
<div class="t" style="left:707.04px;top:1219.71px;font-size:17.0px;line-height:20.40px;font-weight:normal;color:#1e1e1e;transform:scaleX(1.1607)">Наименование</div>
<div class="t" style="left:867.42px;top:1219.71px;font-size:17.0px;line-height:20.40px;font-weight:normal;color:#1e1e1e;transform:scaleX(1.1828)">Кол-во</div>
<div class="t" style="left:945.63px;top:1219.71px;font-size:17.0px;line-height:20.40px;font-weight:normal;color:#1e1e1e;transform:scaleX(1.1676)">Момент затяжки</div>
<div class="t" style="left:657.63px;top:1249.88px;font-size:12.8px;line-height:15.36px;font-weight:normal;color:#262626;transform:scaleX(1.1684)">Болт М6х30</div>
<div class="t" style="left:880.02px;top:1249.88px;font-size:12.8px;line-height:15.36px;font-weight:normal;color:#262626;transform:scaleX(1.1684)">2 шт.</div>
<div class="t" style="left:996.69px;top:1249.88px;font-size:12.8px;line-height:15.36px;font-weight:normal;color:#262626;transform:scaleX(1.1684)">9 Нм</div>
<div class="t" style="left:657.63px;top:1266.40px;font-size:12.8px;line-height:15.36px;font-weight:normal;color:#262626;transform:scaleX(1.1684)">Болт М8х30</div>
<div class="t" style="left:880.02px;top:1266.40px;font-size:12.8px;line-height:15.36px;font-weight:normal;color:#262626;transform:scaleX(1.1684)">6 шт.</div>
<div class="t" style="left:992.53px;top:1266.40px;font-size:12.8px;line-height:15.36px;font-weight:normal;color:#262626;transform:scaleX(1.1684)">24 Нм</div>
<div class="t" style="left:657.63px;top:1282.92px;font-size:12.8px;line-height:15.36px;font-weight:normal;color:#262626;transform:scaleX(1.1684)">Гайка закладная М6</div>
<div class="t" style="left:880.02px;top:1282.92px;font-size:12.8px;line-height:15.36px;font-weight:normal;color:#262626;transform:scaleX(1.1684)">2 шт.</div>
<div class="t" style="left:657.63px;top:1299.44px;font-size:12.8px;line-height:15.36px;font-weight:normal;color:#262626;transform:scaleX(1.1684)">Гайка закладная М8</div>
<div class="t" style="left:880.02px;top:1299.44px;font-size:12.8px;line-height:15.36px;font-weight:normal;color:#262626;transform:scaleX(1.1684)">2 шт.</div>
<div class="t" style="left:657.63px;top:1315.96px;font-size:12.8px;line-height:15.36px;font-weight:normal;color:#262626;transform:scaleX(1.1684)">Гайка закладная М8х50</div>
<div class="t" style="left:880.02px;top:1315.96px;font-size:12.8px;line-height:15.36px;font-weight:normal;color:#262626;transform:scaleX(1.1684)">3 шт.</div>
<div class="t" style="left:657.63px;top:1332.48px;font-size:12.8px;line-height:15.36px;font-weight:normal;color:#262626;transform:scaleX(1.1684)">Гайка закладная М8х65</div>
<div class="t" style="left:880.02px;top:1332.48px;font-size:12.8px;line-height:15.36px;font-weight:normal;color:#262626;transform:scaleX(1.1684)">1 шт.</div>
<div class="t" style="left:657.63px;top:1349.00px;font-size:12.8px;line-height:15.36px;font-weight:normal;color:#262626;transform:scaleX(1.1684)">Шайба 6</div>
<div class="t" style="left:880.02px;top:1349.00px;font-size:12.8px;line-height:15.36px;font-weight:normal;color:#262626;transform:scaleX(1.1684)">2 шт.</div>
<div class="t" style="left:657.63px;top:1365.52px;font-size:12.8px;line-height:15.36px;font-weight:normal;color:#262626;transform:scaleX(1.1684)">Шайба 8</div>
<div class="t" style="left:880.02px;top:1365.52px;font-size:12.8px;line-height:15.36px;font-weight:normal;color:#262626;transform:scaleX(1.1684)">6 шт.</div>
<div class="t" style="left:658.80px;top:1382.04px;font-size:12.8px;line-height:15.36px;font-weight:normal;color:#262626;transform:scaleX(1.1684)">Экран 1</div>
<div class="t" style="left:880.02px;top:1382.04px;font-size:12.8px;line-height:15.36px;font-weight:normal;color:#262626;transform:scaleX(1.1684)">1 шт.</div>
<div class="t" style="left:658.80px;top:1398.56px;font-size:12.8px;line-height:15.36px;font-weight:normal;color:#262626;transform:scaleX(1.1684)">Экран 2</div>
<div class="t" style="left:880.02px;top:1398.56px;font-size:12.8px;line-height:15.36px;font-weight:normal;color:#262626;transform:scaleX(1.1684)">1 шт.</div>
<div class="t" style="left:37.28px;top:1539.25px;font-size:17.7px;line-height:21.24px;font-weight:normal;color:#232323;transform:scaleX(1.1154)">Производитель вправе вносить изменения в конструкцию защиты.</div>
<div class="t" style="left:38.40px;top:1562.75px;font-size:17.7px;line-height:21.24px;font-weight:normal;color:#232323;transform:scaleX(1.1186)">Техническая поддержка:</div>
<div class="t" style="left:279.00px;top:1562.75px;font-size:17.7px;line-height:21.24px;font-weight:normal;color:#232323;transform:scaleX(1.1120)">e-mail:</div>
<div class="t" style="left:559.70px;top:1562.75px;font-size:17.7px;line-height:21.24px;font-weight:normal;color:#232323;transform:scaleX(1.0922)">Телефон</div>
<div class="t" style="left:640.41px;top:1562.75px;font-size:17.7px;line-height:21.24px;font-weight:bold;color:#232323;transform:scaleX(1.2904)">: 8-800-555-60-43</div>
<div class="t" style="left:344.50px;top:1562.75px;font-size:17.7px;line-height:21.24px;color:#1a1a9c;text-decoration:underline;transform:scaleX(1.1621)"><b>supp@rivalauto.com</b>;</div>
</body></html>
